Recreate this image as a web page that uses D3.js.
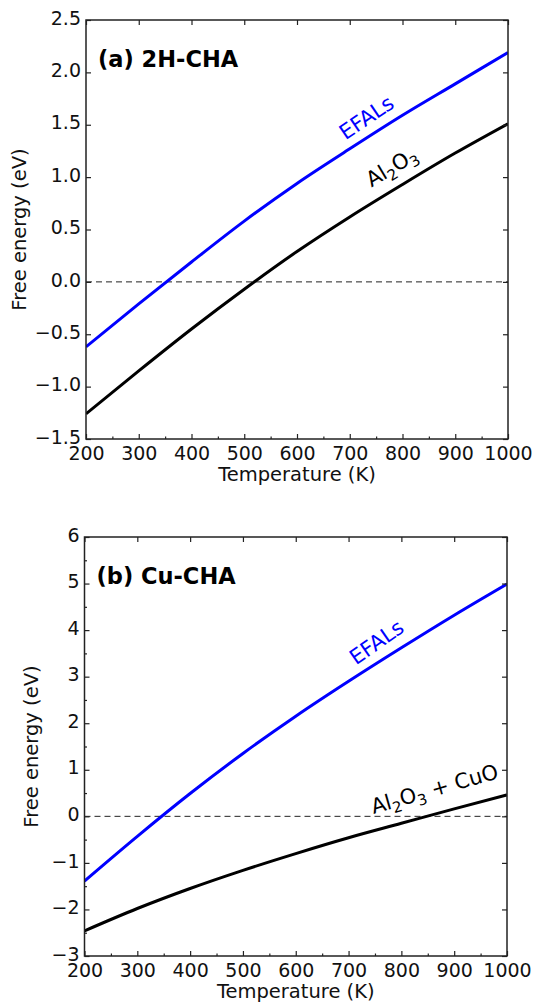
<!DOCTYPE html>
<html>
<head>
<meta charset="utf-8">
<script src="https://cdn.jsdelivr.net/npm/d3@7"></script>
<style>
  html, body { margin: 0; padding: 0; background: #fff; }
  svg { display: block; font-family: "DejaVu Sans", sans-serif; }
</style>
</head>
<body>
<script>
// ---------- data ----------
const temps = [200, 300, 400, 500, 600, 700, 800, 900, 1000];

// panel (a) 2H-CHA
const aEFALs = [-0.62, -0.21, 0.19, 0.58, 0.94, 1.27, 1.59, 1.89, 2.19];
const aAl2O3 = [-1.26, -0.85, -0.45, -0.07, 0.29, 0.62, 0.93, 1.23, 1.51];

// panel (b) Cu-CHA
const bEFALs = [-1.39, -0.43, 0.49, 1.35, 2.15, 2.90, 3.62, 4.32, 4.99];
const bAl2O3CuO = [-2.46, -1.98, -1.55, -1.16, -0.80, -0.46, -0.15, 0.16, 0.46];

const xMajor = [200, 300, 400, 500, 600, 700, 800, 900, 1000];
const xMinor = [250, 350, 450, 550, 650, 750, 850, 950];
const aYMajor = [-1.5, -1.0, -0.5, 0.0, 0.5, 1.0, 1.5, 2.0, 2.5];
const bYMajor = [-3, -2, -1, 0, 1, 2, 3, 4, 5, 6];
const bYMinor = [-2.5, -1.5, -0.5, 0.5, 1.5, 2.5, 3.5, 4.5, 5.5];

const W = 533, H = 1002;
const svg = d3.select("body").append("svg").attr("width", W).attr("height", H);
svg.append("rect").attr("width", W).attr("height", H).attr("fill", "#fff");

const minus = s => s.replace("-", "\u2212");
const TICK_FS = 19, LABEL_FS = 19.5, ANNO_FS = 21, TITLE_FS = 22.5;

function panel(cfg) {
  const x = d3.scaleLinear().domain([200, 1000]).range([cfg.left, cfg.right]);
  const y = d3.scaleLinear().domain(cfg.yDomain).range([cfg.bottom, cfg.top]);
  const g = svg.append("g");
  const clipId = "clip" + cfg.id;
  g.append("clipPath").attr("id", clipId).append("rect")
    .attr("x", cfg.left).attr("y", cfg.top)
    .attr("width", cfg.right - cfg.left).attr("height", cfg.bottom - cfg.top);

  // zero dashed line
  g.append("line")
    .attr("x1", x(200)).attr("x2", x(1000)).attr("y1", y(0)).attr("y2", y(0))
    .attr("stroke", "#222").attr("stroke-width", 1).attr("stroke-dasharray", "6,4");

  const line = d3.line().x((d, i) => x(temps[i])).y(d => y(d)).curve(d3.curveMonotoneX);
  g.append("path").datum(cfg.black).attr("d", line).attr("fill", "none")
    .attr("stroke", "#000").attr("stroke-width", 3).attr("clip-path", `url(#${clipId})`);
  g.append("path").datum(cfg.blue).attr("d", line).attr("fill", "none")
    .attr("stroke", "#0000ff").attr("stroke-width", 3).attr("clip-path", `url(#${clipId})`);

  const styleAxis = (sel) => {
    sel.select(".domain").remove();
    sel.selectAll(".tick line").attr("stroke", "#222").attr("stroke-width", 1.2);
    sel.selectAll("text").attr("font-family", "DejaVu Sans").attr("font-size", TICK_FS).attr("fill", "#111");
  };

  // bottom axis
  g.append("g").attr("transform", `translate(0,${cfg.bottom})`)
    .call(d3.axisBottom(x).tickValues(xMajor).tickSize(-5).tickPadding(8).tickFormat(d => d))
    .call(styleAxis);
  g.append("g").attr("transform", `translate(0,${cfg.bottom})`)
    .call(d3.axisBottom(x).tickValues(xMinor).tickSize(-2.5).tickFormat(""))
    .call(styleAxis);
  // top axis
  g.append("g").attr("transform", `translate(0,${cfg.top})`)
    .call(d3.axisTop(x).tickValues(xMajor).tickSize(-5).tickFormat(""))
    .call(styleAxis);
  // left axis
  const la = g.append("g").attr("transform", `translate(${cfg.left},0)`)
    .call(d3.axisLeft(y).tickValues(cfg.yMajor).tickSize(-5).tickPadding(5)
      .tickFormat(d => minus(d3.format(cfg.fmt)(d))))
    .call(styleAxis);
  la.selectAll(".tick text").attr("dy", "0.22em");
  if (cfg.yMinor) {
    g.append("g").attr("transform", `translate(${cfg.left},0)`)
      .call(d3.axisLeft(y).tickValues(cfg.yMinor).tickSize(-2.5).tickFormat(""))
      .call(styleAxis);
  }
  // right axis
  g.append("g").attr("transform", `translate(${cfg.right},0)`)
    .call(d3.axisRight(y).tickValues(cfg.yMajor).tickSize(-5).tickFormat(""))
    .call(styleAxis);

  // frame
  g.append("rect").attr("x", cfg.left).attr("y", cfg.top)
    .attr("width", cfg.right - cfg.left).attr("height", cfg.bottom - cfg.top)
    .attr("fill", "none").attr("stroke", "#222").attr("stroke-width", 1.5);

  // axis labels
  g.append("text").attr("x", (cfg.left + cfg.right) / 2).attr("y", cfg.bottom + 42)
    .attr("text-anchor", "middle").attr("font-size", LABEL_FS).attr("fill", "#111")
    .text("Temperature (K)");
  g.append("text")
    .attr("transform", `translate(${cfg.ylabelX},${(cfg.top + cfg.bottom) / 2}) rotate(-90)`)
    .attr("text-anchor", "middle").attr("font-size", LABEL_FS).attr("fill", "#111")
    .text("Free energy (eV)");

  // panel title
  g.append("text").attr("x", cfg.left + 12).attr("y", cfg.top + 47)
    .attr("font-size", TITLE_FS).attr("font-weight", "bold").attr("fill", "#000")
    .text(cfg.title);

  // curve annotations
  g.append("text")
    .attr("transform", `translate(${x(cfg.efLab[0])},${y(cfg.efLab[1])}) rotate(${cfg.efLab[2]})`)
    .attr("font-size", ANNO_FS).attr("fill", "#0000ff").text("EFALs");

  const t = g.append("text")
    .attr("transform", `translate(${x(cfg.alLab[0])},${y(cfg.alLab[1])}) rotate(${cfg.alLab[2]})`)
    .attr("font-size", ANNO_FS).attr("fill", "#000");
  t.append("tspan").text("Al");
  t.append("tspan").attr("font-size", 15).attr("dy", 5).text("2");
  t.append("tspan").attr("dy", -5).text("O");
  t.append("tspan").attr("font-size", 15).attr("dy", 5).text("3");
  if (cfg.alExtra) t.append("tspan").attr("dy", -5).text(cfg.alExtra);
}

panel({
  id: "a", left: 86, right: 508, top: 20, bottom: 439,
  yDomain: [-1.5, 2.5], yMajor: aYMajor, fmt: ".1f",
  blue: aEFALs, black: aAl2O3, title: "(a) 2H-CHA", ylabelX: 26,
  efLab: [692, 1.35, -34], alLab: [741, 0.90, -31]
});

panel({
  id: "b", left: 84.5, right: 507, top: 537, bottom: 956,
  yDomain: [-3, 6], yMajor: bYMajor, yMinor: bYMinor, fmt: "d",
  blue: bEFALs, black: bAl2O3CuO, title: "(b) Cu-CHA", ylabelX: 38,
  efLab: [714, 3.24, -35], alLab: [747, 0.05, -16], alExtra: " + CuO"
});
</script>
</body>
</html>
